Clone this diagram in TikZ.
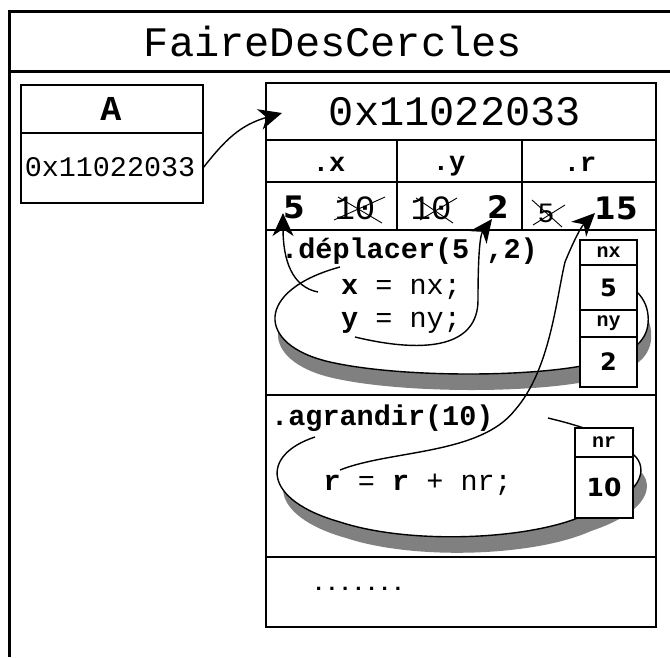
\documentclass[tikz,border=0pt]{standalone}
\usepackage{fontspec}
\setmonofont{Liberation Mono}
\newfontfamily\digitfont{DejaVu Sans}
\usetikzlibrary{arrows.meta}

\tikzset{
  frame/.style={line width=3pt},
  cellbox/.style={draw, line width=2.8pt, fill=white, inner sep=0pt, outer sep=0pt},
  cell/.style 2 args={cellbox, minimum width=#1pt, minimum height=#2pt},
  mono/.style={font=\ttfamily\fontsize{#1}{#1}\selectfont, inner sep=0pt},
  monob/.style={font=\ttfamily\bfseries\fontsize{#1}{#1}\selectfont, inner sep=0pt},
  digit/.style={font=\digitfont\bfseries\fontsize{#1}{#1}\selectfont, inner sep=0pt},
  strike/.style={line width=0.9pt},
  blob/.style={draw, fill=white, line width=1.4pt},
  shade/.style={fill=black!50},
  conn/.style={line width=1.4pt, -{Stealth[length=23pt,width=21pt,inset=7pt]}},
}

\begin{document}
\begin{tikzpicture}[x=1pt,y=-1pt]
\useasboundingbox (0,0) rectangle (670,657);

% class frame
\draw[frame] (670,11.5) -- (9.5,11.5) -- (9.5,657);
\draw[frame] (9.5,71.5) -- (670,71.5);
\node[mono=42] (clsname) at (333,41) {FaireDesCercles};

% reference variable A
\node[cell={182}{48}] (Ahead) at (112,109) {};
\node[cell={182}{70}] (Aval) at (112,168) {};
\node[monob=35] (Aname) at (111,109) {A};
\node[mono=28.4] (Aaddr) at (110,167.5) {0x11022033};

% object cells
\node[cell={390}{57}] (objhead) at (461,111.5) {};
\node[mono=42] (objaddr) at (455,112) {0x11022033};
\node[cell={131}{42}] (hx) at (331.5,161) {};
\node[cell={125}{42}] (hy) at (459.5,161) {};
\node[cell={134}{42}] (hr) at (589,161) {};
\node[cell={131}{48}] (vx) at (331.5,206) {};
\node[cell={125}{48}] (vy) at (459.5,206) {};
\node[cell={134}{48}] (vr) at (589,206) {};
\node[cell={390}{165}] (meth1) at (461,312.5) {};
\node[cell={390}{162}] (meth2) at (461,476) {};
\node[cell={390}{70}] (rest) at (461,592) {};

% field names
\node[monob=27] (lx) at (329,164) {.x};
\node[monob=27] (ly) at (449,166) {.y};
\node[monob=27] (lr) at (580,164) {.r};

% field values, old ones struck out
\node[digit=31] (nx5) at (294,207) {5};
\node[mono=34] (oldx) at (355,208.5) {10};
\draw[strike] (334,220) -- (385,197);
\draw[strike] (338,197) -- (382,223);
\node[mono=34] (oldy) at (431,208.5) {10};
\draw[strike] (416,198) -- (453,223);
\draw[strike] (420,220) -- (457,198);
\node[digit=31] (ny2) at (498,207) {2};
\node[mono=28] (oldr) at (546,213) {5};
\draw[strike] (532,200) -- (562,227);
\draw[strike] (533,225) -- (565,205);
\node[digit=31] (nr15) at (616,208) {15};

% method deplacer: bubble with shadow
\fill[shade, shift={(3,16)}] (340,267) .. controls (255,290) and (255,345) .. (330,362)
  .. controls (400,378) and (540,378) .. (600,362)
  .. controls (640,352) and (650,335) .. (648,315)
  .. controls (646,295) and (630,282) .. (600,270);
\path[blob] (340,267) .. controls (255,290) and (255,345) .. (330,362)
  .. controls (400,378) and (540,378) .. (600,362)
  .. controls (640,352) and (650,335) .. (648,315)
  .. controls (646,295) and (630,282) .. (600,270);

% method agrandir: bubble with shadow
\fill[shade, shift={(6,16)}] (315,437) .. controls (260,455) and (262,500) .. (340,522)
  .. controls (410,545) and (530,540) .. (585,515)
  .. controls (645,495) and (648,468) .. (634,455)
  .. controls (620,440) and (590,428) .. (548,418);
\path[blob] (315,437) .. controls (260,455) and (262,500) .. (340,522)
  .. controls (410,545) and (530,540) .. (585,515)
  .. controls (645,495) and (648,468) .. (634,455)
  .. controls (620,440) and (590,428) .. (548,418);

% parameters
\node[cell={57}{25}, monob=20] (pnx) at (608.5,252.5) {nx};
\node[cell={57}{45}, digit=24] (pnxv) at (608.5,287.5) {5};
\node[cell={57}{27}, monob=20] (pny) at (608.5,323.5) {ny};
\node[cell={57}{50}, digit=24] (pnyv) at (608.5,362) {2};
\node[cell={58}{29}, monob=20] (pnr) at (604,442.5) {nr};
\node[cell={58}{61}, digit=25] (pnrv) at (604,487.5) {10};

% method bodies
\node[monob=28.5, anchor=base west] (depl) at (281,258) {.déplacer(5 ,2)};
\node[mono=28.5, anchor=base west] (setx) at (341,294) {\textbf{x} = nx;};
\node[mono=28.5, anchor=base west] (sety) at (341,327) {\textbf{y} = ny;};
\node[monob=28.5, anchor=base west] (agr) at (271,425) {.agrandir(10)};
\node[mono=28.5, anchor=base west] (setr) at (323.5,490) {\textbf{r} = \textbf{r} + nr;};
\node[monob=22, anchor=base west] (more) at (312,590) {.......};

% connector end points
\coordinate (ptrtip) at (282,113);
\coordinate (xsrc) at (318,292);
\coordinate (xdst) at (283,213);
\coordinate (ysrc) at (355,337);
\coordinate (ydst) at (492,219);
\coordinate (rsrc) at (340,470);
\coordinate (rdst) at (595,213);

% connectors
\draw[conn] (Aval.east) .. controls (225,140) and (240,125) .. (ptrtip);
\draw[conn] (xsrc) .. controls (292,287) and (283,260) .. (xdst);
\draw[conn] (ysrc) .. controls (430,355) and (478,345) .. (478,300)
  .. controls (478,255) and (480,235) .. (ydst);
\draw[conn] (rsrc) .. controls (390,450) and (480,455) .. (515,410)
  .. controls (550,370) and (556,300) .. (565,262)
  .. controls (572,245) and (580,228) .. (rdst);
\end{tikzpicture}
\end{document}
